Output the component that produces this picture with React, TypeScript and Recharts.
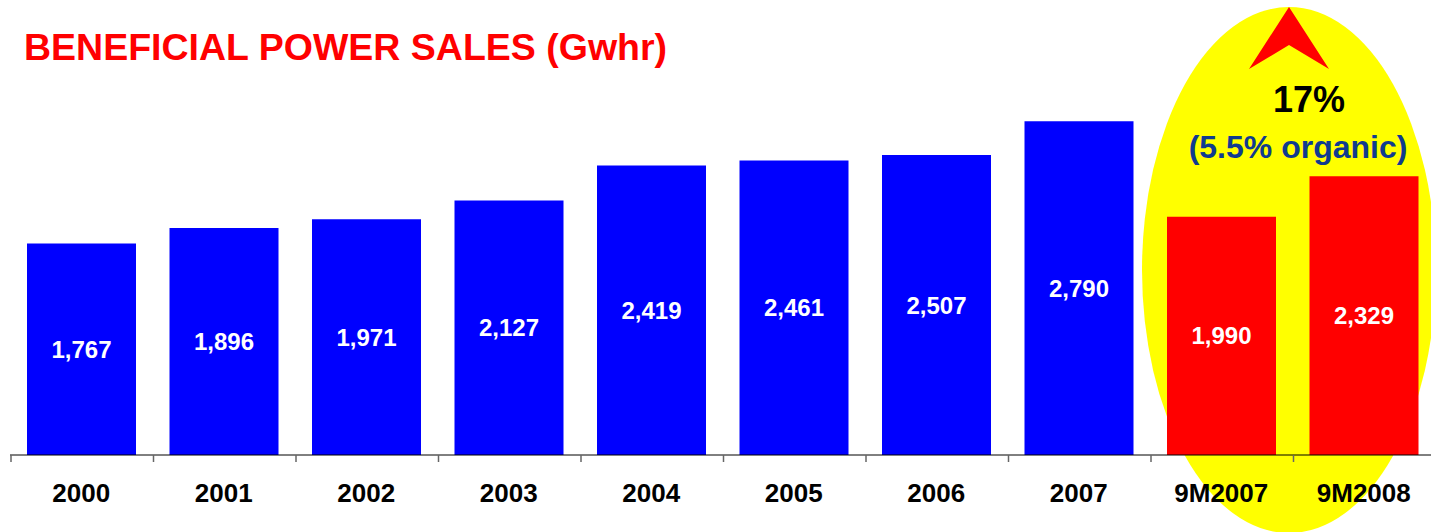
import React from 'react';
import { BarChart, Bar, XAxis, YAxis, Cell, LabelList } from 'recharts';

const categories = ['2000', '2001', '2002', '2003', '2004', '2005', '2006', '2007', '9M2007', '9M2008'];
const salesGwhr = [1767, 1896, 1971, 2127, 2419, 2461, 2507, 2790, 1990, 2329];

const growthLabel = '17%';
const organicLabel = '(5.5% organic)';

const FONT = '"Liberation Sans", Arial, Helvetica, sans-serif';

const chartData = categories.map((name, i) => ({ name, value: salesGwhr[i] }));

// category label + tick mark on the left edge of each band
const BandTick = (props: any) => {
    const { x, y, payload } = props;
    const half = payload && payload.offset ? payload.offset : 71.25;
    const left = x - half + 1;
    return (
        <g>
            <line x1={left} y1={y} x2={left} y2={y + 7} stroke="#666" strokeWidth={1.5} />
            <text x={x} y={y + 47} textAnchor="middle" fontFamily={FONT} fontWeight="bold" fontSize={26} fill="#000">
                {payload.value}
            </text>
        </g>
    );
};

const App: React.FC = () => {
    return (
        <div style={{ position: 'absolute', left: 0, top: 0, width: 1431, height: 532, overflow: 'hidden', background: '#fff' }}>
            {/* highlight behind the nine-month bars */}
            <svg width={1431} height={532} style={{ position: 'absolute', left: 0, top: 0 }}>
                <ellipse cx={1289} cy={270} rx={147} ry={263} fill="#FFFF00" />
                <polygon points="1289,7 1329,69 1289,45 1249,69" fill="#FF0000" />
                <text x={1309} y={112} textAnchor="middle" fontFamily={FONT} fontWeight="bold" fontSize={36} fill="#000">
                    {growthLabel}
                </text>
                <text x={1298} y={158} textAnchor="middle" fontFamily={FONT} fontWeight="bold" fontSize={32} fill="#103B8F">
                    {organicLabel}
                </text>
                <text x={24} y={60} fontFamily={FONT} fontWeight="bold" fontSize={37.5} fill="#FF0000">
                    BENEFICIAL POWER SALES (Gwhr)
                </text>
            </svg>
            <div style={{ position: 'absolute', left: 0, top: 0 }}>
                <BarChart width={1440} height={532} data={chartData} margin={{ top: 96, right: 5, bottom: 17, left: 10 }}>
                    <YAxis hide domain={[0, 3000]} />
                    <XAxis
                        dataKey="name"
                        height={60}
                        interval={0}
                        tickLine={false}
                        tickSize={0}
                        tickMargin={0}
                        axisLine={{ stroke: '#000', strokeWidth: 1 }}
                        tick={<BandTick />}
                    />
                    <Bar dataKey="value" barSize={109} isAnimationActive={false}>
                        {chartData.map(d => (
                            <Cell key={d.name} fill={d.name.startsWith('9M') ? '#FF0000' : '#0000FF'} />
                        ))}
                        <LabelList
                            dataKey="value"
                            position="center"
                            formatter={(v: any) => Number(v).toLocaleString('en-US')}
                            fill="#fff"
                            fontFamily={FONT}
                            fontWeight="bold"
                            fontSize={24}
                        />
                    </Bar>
                </BarChart>
            </div>
        </div>
    );
};

export default App;
